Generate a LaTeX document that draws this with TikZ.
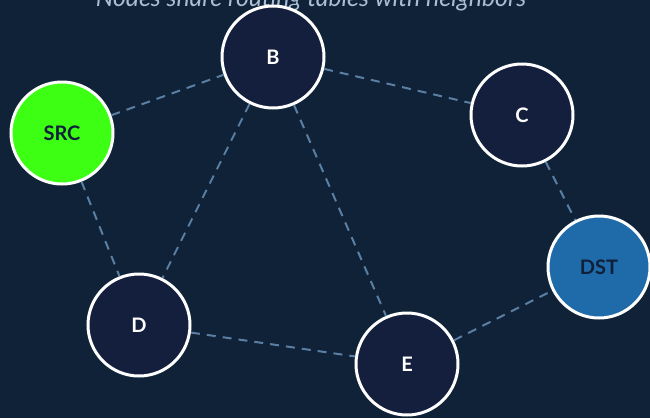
\documentclass[tikz,border=0pt]{standalone}
\usepackage{fontspec}
\setmainfont{Lato}
\definecolor{bg}{HTML}{0F2238}
\definecolor{nodefill}{HTML}{131F3D}
\definecolor{edgecol}{HTML}{5A7FA3}
\definecolor{titlecol}{HTML}{A9BFD6}
\definecolor{srcfill}{HTML}{3CFF14}
\definecolor{dstfill}{HTML}{1F6AA8}
\definecolor{darktext}{HTML}{10203A}
\begin{document}
\begin{tikzpicture}[x=1pt,y=-1pt,
  netnode/.style={circle,draw=white,line width=3pt,fill=nodefill,minimum size=102pt,inner sep=0pt,text=white,font=\fontsize{20}{22}\selectfont\bfseries},
  link/.style={draw=edgecol,line width=2pt,dash pattern=on 9pt off 7pt}]
\fill[bg] (0,0) rectangle (650,418);
\useasboundingbox (0,0) rectangle (650,418);
\node[text=titlecol,font=\fontsize{24.8}{26}\selectfont\itshape,anchor=base] (title) at (311,6) {Nodes share routing tables with neighbors};
\node[netnode] (B) at (273,57) {B};
\node[netnode,fill=srcfill,text=darktext] (SRC) at (62,133) {SRC};
\node[netnode] (C) at (522,115) {C};
\node[netnode,fill=dstfill,text=darktext] (DST) at (599,267) {DST};
\node[netnode] (D) at (139,325) {D};
\node[netnode] (E) at (407,364) {E};
\path[link] (SRC) -- (B);
\path[link] (B) -- (C);
\path[link] (B) -- (D);
\path[link] (B) -- (E);
\path[link] (SRC) -- (D);
\path[link] (C) -- (DST);
\path[link] (D) -- (E);
\path[link] (E) -- (DST);
\end{tikzpicture}
\end{document}
